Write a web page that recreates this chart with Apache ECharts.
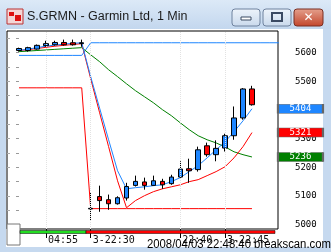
<!DOCTYPE html>
<html><head><meta charset="utf-8">
<script src="https://cdn.jsdelivr.net/npm/echarts@6/dist/echarts.min.js"></script>
<style>html,body{margin:0;padding:0;background:#c6d9ef;}#c{width:331px;height:252px;}</style>
</head><body><div id="c"></div>
<script>
// ---- data ----
const times = ['04:52','04:53','04:54','04:55','04:56','04:57','04:58','04:59',
  '22:30','22:31','22:32','22:33','22:34','22:35','22:36','22:37','22:38','22:39',
  '22:40','22:41','22:42','22:43','22:44','22:45','22:46','22:47','22:48'];
const opens  = [5607,5607,5612,5624,5627,5635,5634,5631, 5055,5098,5087,5073,5093,5137,5149,5137,5151,5143,5166,5195,5192,5275,5244,5267,5310,5372,5473];
const closes = [5614,5617,5625,5631,5635,5627,5627,5634, 5057,5084,5073,5094,5133,5151,5137,5153,5139,5166,5194,5188,5261,5244,5266,5310,5372,5473,5418];
const lows   = [5603,5603,5610,5620,5624,5624,5624,5620, 5014,5045,5052,5070,5084,5133,5122,5136,5125,5139,5163,5146,5185,5237,5221,5255,5296,5366,5415];
const highs  = [5617,5620,5628,5641,5641,5645,5645,5645, 5111,5136,5105,5099,5146,5171,5164,5171,5160,5174,5221,5230,5272,5286,5294,5317,5412,5476,5484];
const maFast = [5607,5612,5617,5622,5626,5629,5632,5634, 5516,5406,5296,5188,5125,5129,5132,5136,5139,5150,5164,5185,5206,5233,5261,5289,5324,5362,5404];
const maMid  = [5607,5610,5614,5618,5622,5625,5628,5631, 5509,5390,5272,5153,5059,5084,5101,5115,5125,5132,5139,5150,5157,5171,5185,5202,5233,5272,5321];
const maSlow = [5603,5605,5607,5609,5611,5613,5615,5617, 5592,5568,5540,5516,5491,5467,5446,5425,5401,5380,5355,5331,5310,5296,5285,5271,5254,5244,5236];
const stopHigh = [5590,5590,5590,5590,5590,5590,5590,5590, 5634,5634,5634,5634,5634,5634,5634,5634,5634,5634,5634,5634,5634,5634,5634,5634,5634,5634,5634,5634,5634,5634];
const stopLow  = [5477,5477,5477,5477,5477,5477,5477,5477, 5056,5056,5056,5056,5056,5056,5056,5056,5056,5056,5056,5056,5056,5056,5056,5056,5056,5056,5056];
const priceTicks = [5000,5100,5200,5300,5400,5500,5600];
const timeTickIdx = [3,8,18,23];
const timeTickText = {3:'04:55',8:'3-22:30',18:'22:40',23:'3-22:45'};
const title = 'S.GRMN - Garmin Ltd, 1 Min';
const stamp = '2008/04/03 22:48:40 breakscan.com';

const BLUE='#1e86ff', RED='#ff0000', GREEN='#008000';
const candleData = opens.map((o,i)=>[i,o,closes[i],lows[i],highs[i]]);
const pair = arr => arr.map((v,i)=>[i,v]);
const minorTicks=[]; for(let v=5000; v<=5650; v+=50) minorTicks.push(v);

const chart = echarts.init(document.getElementById('c'), null, {renderer:'canvas'});
const G={left:7, top:31, width:271, height:198};
function lastMark(arr,color){
  const i=arr.length-1;
  return {symbol:'rect', symbolSize:[45,9], symbolOffset:[48.5,0], silent:true, animation:false,
    itemStyle:{color:color, borderColor:'#666', borderWidth:1},
    label:{show:true, position:'inside', color:'#fff', fontFamily:'DejaVu Sans Mono', fontSize:9, formatter:String(arr[i])},
    data:[{coord:[i,arr[i]], value:arr[i]}]};
}
chart.setOption({
  animation:false,
  backgroundColor:'#c6d9ef',
  grid:{left:G.left, top:G.top, width:G.width, height:G.height, show:true, backgroundColor:'#fff', borderColor:'#000', borderWidth:1},
  xAxis:{type:'value', min:-1.339, max:28.906, position:'bottom',
    axisLine:{show:false},
    splitLine:{show:false},
    axisTick:{show:true, customValues:timeTickIdx, length:9, lineStyle:{color:'#000'}},
    axisLabel:{show:true, customValues:timeTickIdx, formatter:v=>timeTickText[v]||'', align:'left', margin:6,
      fontFamily:'DejaVu Sans Mono', fontSize:10, color:'#111', padding:[0,0,0,2]}
  },
  yAxis:[{type:'value', position:'right', min:4985, max:5675,
    axisLine:{show:false}, splitLine:{show:false},
    axisTick:{show:true, inside:true, length:3, customValues:minorTicks, lineStyle:{color:'#999'}},
    axisLabel:{show:true, customValues:priceTicks, formatter:v=>String(v), margin:17, fontFamily:'DejaVu Sans Mono', fontSize:9, color:'#000'}
  },{type:'value', position:'left', min:4985, max:5675,
    axisLine:{show:false}, splitLine:{show:false}, axisLabel:{show:false},
    axisTick:{show:true, inside:true, length:3, customValues:minorTicks, lineStyle:{color:'#aaa'}}
  }],
  series:[
    {type:'line', data:pair(stopHigh), symbol:'none', lineStyle:{color:BLUE, width:1}, z:2,
     markLine:{silent:true, symbol:'none', label:{show:false}, lineStyle:{color:'#e2e2e2', type:'dotted', width:1},
       data:timeTickIdx.map(i=>({xAxis:i}))}},
    {type:'line', data:pair(stopLow), symbol:'none', lineStyle:{color:RED, width:1}, z:2},
    {type:'line', data:pair(maSlow), symbol:'none', lineStyle:{color:GREEN, width:1}, z:3, markPoint:lastMark(maSlow,GREEN)},
    {type:'line', data:pair(maMid), symbol:'none', lineStyle:{color:RED, width:1}, z:3, markPoint:lastMark(maMid,RED)},
    {type:'line', data:pair(maFast), symbol:'none', lineStyle:{color:BLUE, width:1}, z:3, markPoint:lastMark(maFast,BLUE)},
    {type:'candlestick', data:candleData, encode:{x:0, y:[1,2,3,4]}, barWidth:5, z:4,
     itemStyle:{color:BLUE, color0:RED, borderColor:'#000', borderColor0:'#000', borderWidth:1}}
  ],
  graphic:[
    {type:'rect', shape:{x:0,y:0,width:331,height:29}, style:{fill:new echarts.graphic.LinearGradient(0,0,0,1,[{offset:0,color:'#dce9f7'},{offset:1,color:'#c3d7ee'}])}, z:-10},
    {type:'rect', shape:{x:6,y:29,width:317,height:218}, style:{fill:'#fff'}, z:-9},
    {type:'rect', shape:{x:7,y:9,width:16,height:15}, style:{fill:'#f4d6d6', stroke:'#b33', lineWidth:1}},
    {type:'rect', shape:{x:9,y:12,width:5,height:4}, style:{fill:'#d11'}},
    {type:'rect', shape:{x:15,y:15,width:6,height:6}, style:{fill:'#d11'}},
    {type:'text', style:{text:title, x:27, y:17, verticalAlign:'middle', font:'12.5px "Liberation Sans"', fill:'#1a1a1a'}},
    {type:'rect', shape:{x:232,y:9,width:28,height:17,r:3}, style:{fill:new echarts.graphic.LinearGradient(0,0,0,1,[{offset:0,color:'#eef4fb'},{offset:1,color:'#c9d9ec'}]), stroke:'#6f829e'}},
    {type:'rect', shape:{x:241,y:17,width:10,height:3}, style:{fill:'#fff', stroke:'#3b4a63', lineWidth:1}},
    {type:'rect', shape:{x:263,y:9,width:28,height:17,r:3}, style:{fill:new echarts.graphic.LinearGradient(0,0,0,1,[{offset:0,color:'#eef4fb'},{offset:1,color:'#c9d9ec'}]), stroke:'#6f829e'}},
    {type:'rect', shape:{x:272,y:13,width:10,height:8}, style:{fill:'none', stroke:'#3b4a63', lineWidth:2}},
    {type:'rect', shape:{x:294,y:9,width:29,height:17,r:3}, style:{fill:new echarts.graphic.LinearGradient(0,0,0,1,[{offset:0,color:'#e5a28f'},{offset:1,color:'#c2442a'}]), stroke:'#7a2f22'}},
    {type:'text', style:{text:'✕', x:308.5, y:17.5, align:'center', verticalAlign:'middle', font:'bold 12px "DejaVu Sans"', fill:'#fff'}},
    {type:'rect', shape:{x:7,y:224,width:13,height:21}, style:{fill:'#fff', stroke:'#777', lineWidth:1}, z:5},
    {type:'rect', shape:{x:20,y:230.5,width:66,height:3}, style:{fill:'#22dd22', stroke:'#000', lineWidth:0.5}, z:5},
    {type:'rect', shape:{x:86,y:230.5,width:189,height:3}, style:{fill:'#ff0000', stroke:'#000', lineWidth:0.5}, z:5},
    {type:'text', x:331, y:245, scaleX:0.945, originX:0, originY:0,
     style:{text:stamp, x:0, y:0, align:'right', verticalAlign:'middle', font:'12px "Liberation Sans"', fill:'#000'}, z:10}
  ]
});
</script></body></html>
